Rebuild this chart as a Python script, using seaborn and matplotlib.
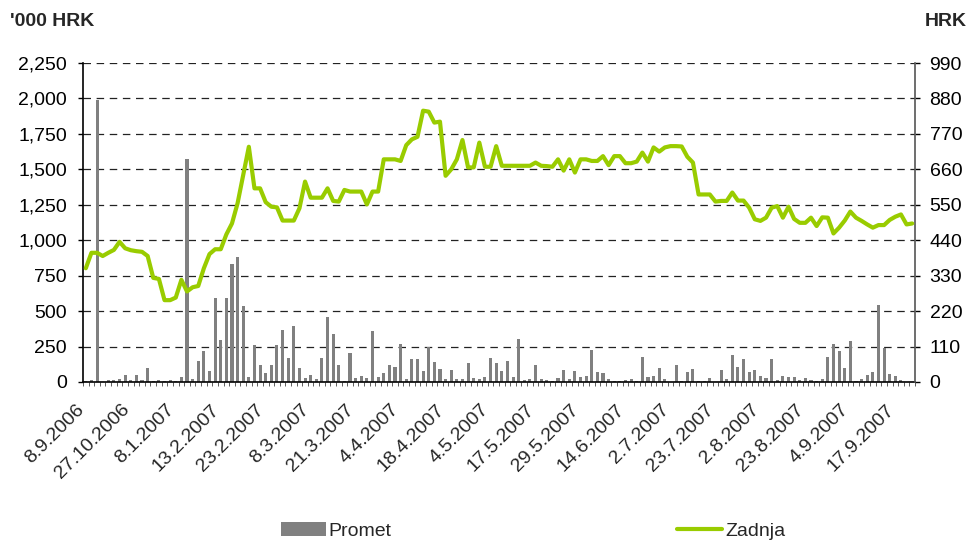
import numpy as np
import pandas as pd
import matplotlib
matplotlib.use("Agg")
import matplotlib.pyplot as plt
import matplotlib.ticker as mticker
from matplotlib.patches import Patch
from matplotlib.lines import Line2D
from matplotlib.transforms import ScaledTranslation
import seaborn as sns

# ---- data (one value per trading day) ----
promet = [10, 15, 1990, 0, 15, 15, 20, 50, 15, 50,
          15, 100, 7, 15, 7, 15, 10, 35, 1570, 20,
          150, 220, 78, 595, 296, 595, 830, 885, 538, 35,
          261, 118, 63, 118, 261, 367, 169,
          395, 99, 28, 49, 21, 169, 458, 338, 120, 7,
          204, 28, 42, 28, 360, 35, 63, 120, 106, 268,
          21, 162, 162, 78, 247, 141, 92, 21, 85, 21,
          21, 134, 28, 21, 35, 169, 134,
          78, 148, 35, 303, 14, 21, 120, 21, 14, 7,
          28, 85, 21, 78, 35, 42, 226, 70, 63, 21,
          7, 7, 14, 21, 7, 176, 35, 42, 99, 21,
          0, 120, 7, 70, 92, 7, 7,
          28, 0, 85, 21, 190, 106, 162, 70, 85, 42,
          28, 162, 14, 42, 35, 35, 14, 28, 14, 7,
          21, 176, 268, 219, 99, 289, 7, 21, 49, 70,
          543, 240, 56, 42, 14, 0, 0]

zadnja = [353, 401, 401, 391, 401, 410, 435, 415, 409, 406,
          404, 391, 323, 320, 254, 254, 262, 317, 281, 294,
          298, 353, 397, 412, 412, 458, 492, 555, 642, 730,
          601, 601, 558, 544, 542, 501, 501, 501, 539, 622,
          572, 572, 572, 601, 562, 560, 596, 591, 591, 591,
          551, 591, 591, 691, 691, 691, 686, 735, 753, 761,
          842, 839, 805, 808, 640, 660, 691, 751, 666, 666,
          743, 668, 668, 732, 671, 671, 671, 671, 671, 671,
          681, 671, 670, 668, 691, 656, 691, 650, 691, 691,
          686, 686, 701, 673, 701, 701, 679, 679, 684, 712,
          684, 728, 715, 728, 732, 732, 731, 699, 681, 582,
          582, 582, 560, 562, 562, 588, 563, 563, 541, 505,
          500, 510, 541, 546, 510, 544, 506, 494, 494, 510,
          484, 511, 510, 461, 479, 501, 529, 510, 500, 489,
          479, 487, 487, 503, 513, 520, 489, 492]

tick_labels = ["8.9.2006", "27.10.2006", "8.1.2007", "13.2.2007", "23.2.2007",
               "8.3.2007", "21.3.2007", "4.4.2007", "18.4.2007", "4.5.2007",
               "17.5.2007", "29.5.2007", "14.6.2007", "2.7.2007", "23.7.2007",
               "2.8.2007", "23.8.2007", "4.9.2007", "17.9.2007"]
label_step = 8

left_ticks = list(range(0, 2251, 250))
right_ticks = list(range(0, 991, 110))

BAR_COLOR = "#808080"
LINE_COLOR = "#99CC00"

sns.set_style("white")
plt.rcParams["font.family"] = ["Liberation Sans", "DejaVu Sans"]
FS = 14

fig = plt.figure(figsize=(9.67, 5.41), dpi=100)
W, H = 967, 541
ax = fig.add_axes([83 / W, 1 - 382 / H, (915 - 83) / W, (382 - 63) / H])

n = len(promet)
idx = np.arange(n)
df = pd.DataFrame({"dan": idx, "Promet": promet, "Zadnja": zadnja})

sns.barplot(data=df, x="dan", y="Promet", ax=ax, color=BAR_COLOR,
            width=0.55, saturation=1, errorbar=None, linewidth=0, zorder=2)
ax2 = ax.twinx()
sns.lineplot(data=df, x="dan", y="Zadnja", ax=ax2, color=LINE_COLOR,
             lw=3, zorder=3)

ax.set_xlim(-0.5, n - 0.5)
ax.set_ylim(0, 2250)
ax2.set_ylim(0, 990)
ax.set_yticks(left_ticks)
ax2.set_yticks(right_ticks)
ax.yaxis.set_major_formatter(mticker.FuncFormatter(lambda v, p: f"{v:,.0f}"))
ax2.yaxis.set_major_formatter(mticker.FuncFormatter(lambda v, p: f"{v:,.0f}"))
for a in (ax, ax2):
    a.set_xlabel("")
    a.set_ylabel("")

# grid
ax.set_axisbelow(True)
ax.yaxis.grid(True, color="#222222", lw=0.9, linestyle=(0, (6, 4.5)))
ax.xaxis.grid(False)
ax2.grid(False)

# spines
for a in (ax, ax2):
    a.spines["top"].set_visible(False)
ax.spines["right"].set_visible(False)
ax2.spines["left"].set_visible(False)
ax2.spines["bottom"].set_visible(False)
ax.spines["left"].set_color("black")
ax.spines["left"].set_linewidth(1.2)
ax.spines["bottom"].set_color("black")
ax.spines["bottom"].set_linewidth(1.2)
ax2.spines["right"].set_color("#555555")
ax2.spines["right"].set_linewidth(1.2)

# ticks
ax.tick_params(axis="y", direction="out", length=3.5, width=1, pad=8,
               labelsize=FS, colors="black", left=True)
ax2.tick_params(axis="y", direction="out", length=3.5, width=1, pad=7,
                labelsize=FS, colors="black", right=True)
ax.set_xticks(idx[::label_step])
ax.set_xticklabels(tick_labels, rotation=45, ha="right", va="center",
                   rotation_mode="anchor", fontsize=FS)
ax.tick_params(axis="x", which="major", length=0, pad=18, bottom=True)
ax.set_xticks(np.arange(-0.5, n, 1), minor=True)
ax.tick_params(axis="x", which="minor", length=3, width=0.6, direction="out",
               color="#444444", bottom=True)
offset = ScaledTranslation(-4 / 100, 0, fig.dpi_scale_trans)
for lbl in ax.get_xticklabels():
    lbl.set_transform(lbl.get_transform() + offset)

# axis titles
fig.text(10 / W, 1 - 21 / H, "'000 HRK", ha="left", va="center",
         fontsize=FS, fontweight="bold")
fig.text(925 / W, 1 - 21 / H, "HRK", ha="left", va="center",
         fontsize=FS, fontweight="bold")

# legend
handles = [Patch(facecolor=BAR_COLOR, edgecolor="none", label="Promet"),
           Line2D([0], [0], color=LINE_COLOR, lw=3, label="Zadnja")]
fig.legend(handles=handles, ncol=2, loc="center left",
           bbox_to_anchor=(281 / W, 1 - 531 / H), frameon=False, fontsize=FS,
           handlelength=2.3, handletextpad=0.15, columnspacing=14.7,
           borderpad=0, borderaxespad=0)

fig.savefig("out.png", dpi=100)
